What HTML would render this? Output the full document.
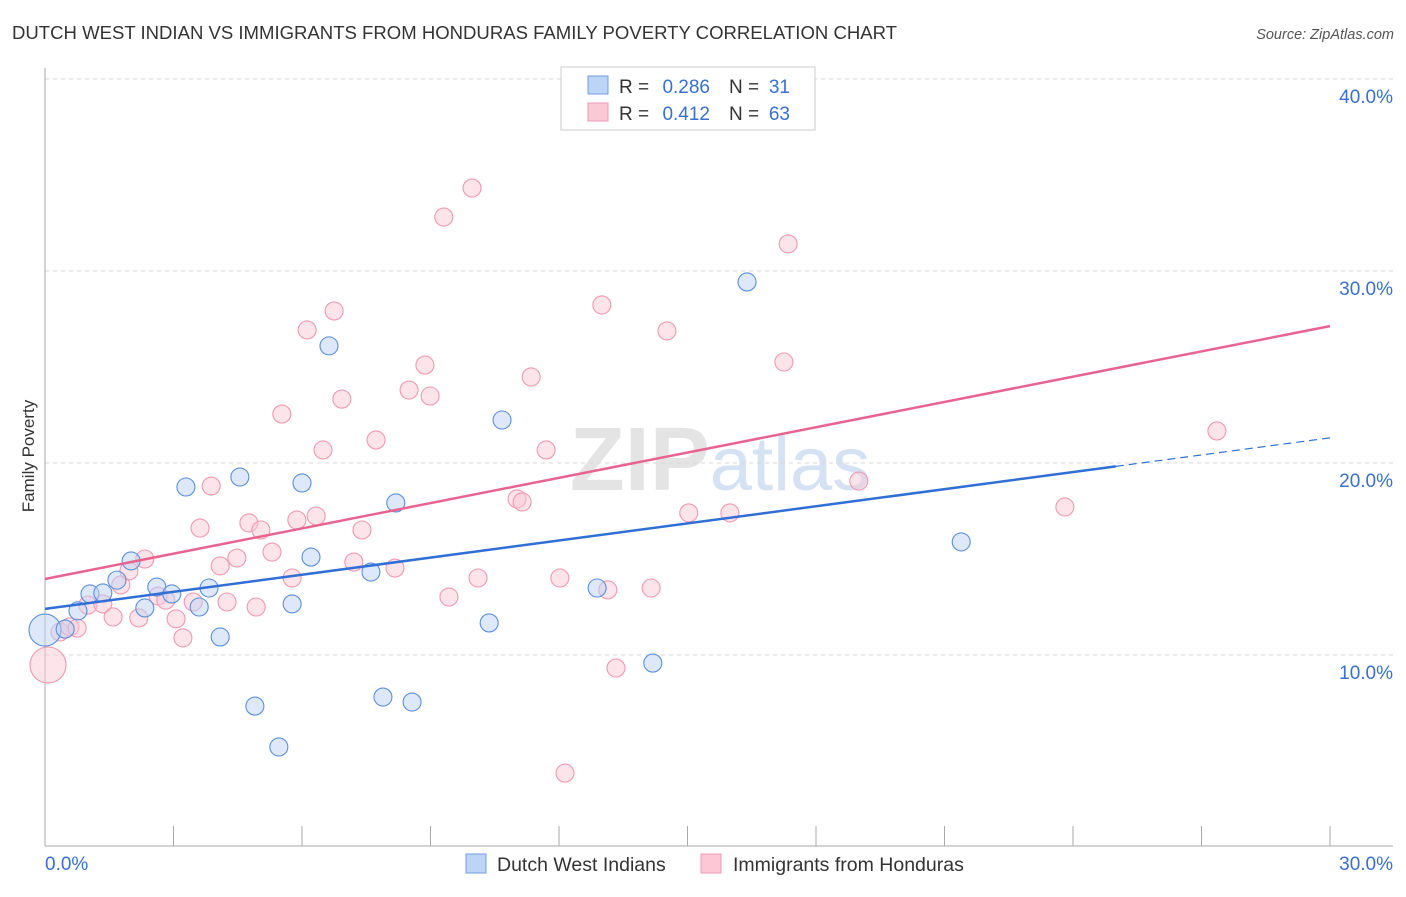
<!DOCTYPE html>
<html><head><meta charset="utf-8">
<style>
body{margin:0;background:#fff;font-family:"Liberation Sans",sans-serif;}
svg text{font-family:"Liberation Sans",sans-serif;}
</style></head>
<body>
<svg id="chart" width="1406" height="892" xmlns="http://www.w3.org/2000/svg">
<text x="12" y="39" font-size="18" fill="#333" textLength="885" lengthAdjust="spacingAndGlyphs">DUTCH WEST INDIAN VS IMMIGRANTS FROM HONDURAS FAMILY POVERTY CORRELATION CHART</text>
<text x="1394" y="39" font-size="14.5" fill="#555" text-anchor="end" font-style="italic">Source: ZipAtlas.com</text>
<text x="720" y="490" font-size="90" fill="#e4e4e4" text-anchor="middle" font-family="Liberation Serif" font-weight="bold">ZIP<tspan fill="#d5e2f3" font-family="Liberation Sans" font-weight="normal" font-size="76">atlas</tspan></text>
<text transform="translate(34,456) rotate(-90)" font-size="17" fill="#333" text-anchor="middle">Family Poverty</text>
<g id="grid"></g>
<g id="axes"></g>
<g id="marks"></g>
<g id="lines"></g>
<g>
<rect x="561" y="67" width="254" height="63" fill="#fff" stroke="#ccc"/>
<rect x="588" y="76" width="20" height="18" fill="#bcd4f5" stroke="#6f9ee0"/>
<rect x="588" y="103" width="20" height="18" fill="#fbc8d6" stroke="#ee99b1"/>
<text x="619" y="93" font-size="19" fill="#333">R =</text>
<text x="710" y="93" font-size="19" fill="#3a6fd0" text-anchor="end">0.286</text>
<text x="729" y="93" font-size="19" fill="#333">N =</text>
<text x="790" y="93" font-size="19" fill="#3a6fd0" text-anchor="end">31</text>
<text x="619" y="120" font-size="19" fill="#333">R =</text>
<text x="710" y="120" font-size="19" fill="#3a6fd0" text-anchor="end">0.412</text>
<text x="729" y="120" font-size="19" fill="#333">N =</text>
<text x="790" y="120" font-size="19" fill="#3a6fd0" text-anchor="end">63</text>
</g>
<g>
<rect x="466" y="854" width="20" height="19" fill="#bcd4f5" stroke="#6f9ee0"/>
<text x="497" y="871" font-size="19.5" fill="#333">Dutch West Indians</text>
<rect x="701" y="854" width="20" height="19" fill="#fbc8d6" stroke="#ee99b1"/>
<text x="733" y="871" font-size="19.5" fill="#333">Immigrants from Honduras</text>
</g>
</svg>
<script>
const blueX=[0,0.47,0.77,1.05,1.35,1.68,2.01,2.33,2.61,2.96,3.29,3.6,3.83,4.09,4.55,4.9,5.46,5.77,6.0,6.21,6.63,7.61,7.89,8.19,8.57,10.37,10.67,12.89,14.19,16.39,21.39];
const blueY=[11.3,11.35,12.3,13.18,13.23,13.9,14.9,12.45,13.54,13.18,18.75,12.5,13.49,10.94,19.27,7.34,5.21,12.66,18.96,15.1,26.1,14.32,7.81,17.92,7.55,11.67,22.24,13.49,9.58,29.43,15.89];
const pinkX=[0.07,0.35,0.58,0.75,1.0,1.35,1.59,1.77,1.96,2.19,2.33,2.64,2.82,3.06,3.22,3.46,3.62,3.88,4.09,4.25,4.48,4.76,4.93,5.04,5.3,5.53,5.77,5.88,6.12,6.33,6.49,6.75,6.93,7.21,7.4,7.73,8.17,8.5,8.87,8.99,9.43,9.31,9.97,10.11,11.02,11.14,11.35,11.7,12.02,12.14,13.0,13.14,13.33,14.15,14.52,15.03,15.99,17.25,17.35,19.0,23.81,27.36];
const pinkY=[9.48,11.2,11.46,11.4,12.6,12.66,11.98,13.65,14.38,11.93,15.0,13.07,12.86,11.88,10.89,12.76,16.61,18.8,14.64,12.76,15.05,16.88,12.5,16.51,15.36,22.55,14.01,17.03,26.93,17.24,20.68,27.92,23.33,14.84,16.51,21.2,14.53,23.8,25.1,23.49,13.02,32.81,34.32,14.01,18.13,17.97,24.48,20.68,14.01,3.85,28.23,13.39,9.32,13.49,26.88,17.4,17.4,25.26,31.41,19.06,17.71,21.67];
const yTicks=[10,20,30,40];
const yTickLabels=["10.0%","20.0%","30.0%","40.0%"];
const blueTrend=[12.4,0.297];   // intercept, slope
const pinkTrend=[13.96,0.439];
const NS="http://www.w3.org/2000/svg";
const X=v=>45+v/30*1285, Y=v=>847-v*19.2;
function mk(tag,attrs,parent){const e=document.createElementNS(NS,tag);for(const k in attrs)e.setAttribute(k,attrs[k]);document.getElementById(parent).appendChild(e);return e;}
yTicks.forEach((t,i)=>{
 const g=mk('line',{x1:45,x2:1393,y1:Y(t),y2:Y(t),stroke:'#d8d8d8','stroke-dasharray':'4,4'},'grid');
 
 
 const tx=mk('text',{x:1393,y:Y(t)+24,'font-size':19,fill:'#3a6fd0','text-anchor':'end'},'axes');
 tx.textContent=yTickLabels[i];
 
 
});
let a=mk('line',{x1:45,x2:45,y1:68,y2:846,stroke:'#aaa'},'axes');

a=mk('line',{x1:45,x2:1393,y1:846,y2:846,stroke:'#aaa'},'axes');

for(let i=0;i<=10;i++){const t=mk('line',{x1:X(i*3),x2:X(i*3),y1:826,y2:846,stroke:'#aaa'},'axes');
 }
let xl=mk('text',{x:45,y:870,'font-size':19,fill:'#3a6fd0'},'axes');xl.textContent='0.0%';

xl=mk('text',{x:1393,y:870,'font-size':19,fill:'#3a6fd0','text-anchor':'end'},'axes');xl.textContent='30.0%';

function pts(xs,ys,fill,stroke,name){xs.forEach((v,i)=>{const r=i===0?(name==='pink-point'?18:16):9;
 const c=mk('circle',{cx:X(v),cy:Y(ys[i]),r:r,fill:fill,'fill-opacity':0.5,stroke:stroke,'stroke-width':1.1},'marks');
 });}
pts(pinkX,pinkY,'#fbc8d6','#ee99b1','pink-point');
pts(blueX,blueY,'#bcd4f5','#5b8fdc','blue-point');
let l=mk('line',{x1:X(0),y1:Y(pinkTrend[0]),x2:X(30),y2:Y(pinkTrend[0]+pinkTrend[1]*30),stroke:'#e8648f','stroke-width':2.5},'lines');

l=mk('line',{x1:X(0),y1:Y(blueTrend[0]),x2:X(25),y2:Y(blueTrend[0]+blueTrend[1]*25),stroke:'#2f6fd6','stroke-width':2.5},'lines');

l=mk('line',{x1:X(25),y1:Y(blueTrend[0]+blueTrend[1]*25),x2:X(30),y2:Y(blueTrend[0]+blueTrend[1]*30),stroke:'#2f6fd6','stroke-width':1.2,'stroke-dasharray':'8,5'},'lines');

</script>
</body></html>
